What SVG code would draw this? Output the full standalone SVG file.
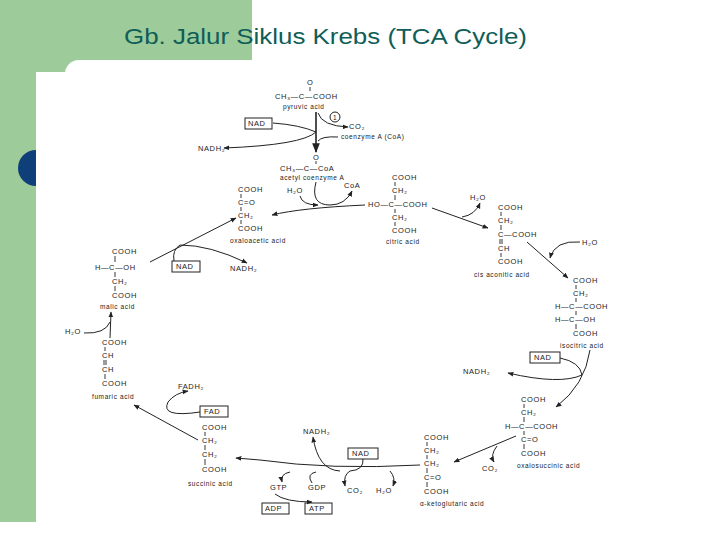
<svg xmlns="http://www.w3.org/2000/svg" width="720" height="540" viewBox="0 0 720 540">
<style>
text{font-family:"Liberation Sans","DejaVu Sans",sans-serif;font-size:7.5px;fill:#222;letter-spacing:0.6px}
.lb{font-size:6.5px}
.box{fill:none;stroke:#222;stroke-width:1}
.bd{fill:none;stroke:#222;stroke-width:0.9}
.c path{fill:none;stroke:#222;stroke-width:1}
</style>
<defs><marker id="a" viewBox="0 0 10 10" refX="9" refY="5" markerWidth="6" markerHeight="6" orient="auto"><path d="M0,1 L10,5 L0,9z" fill="#222"/></marker></defs>
<rect width="720" height="540" fill="#fff"/>
<rect x="0" y="0" width="252" height="86" fill="#9dcb9a"/>
<rect x="0" y="0" width="36" height="522" fill="#9dcb9a"/>
<circle cx="36" cy="168" r="18" fill="#0e3f78"/>
<rect x="65" y="60" width="600" height="100" rx="14" fill="#fff"/>
<rect x="36" y="72" width="604" height="450" fill="#fff"/>
<text x="124" y="44" textLength="403" lengthAdjust="spacingAndGlyphs" style="font-size:22px;fill:#0f5e58;letter-spacing:0">Gb.  Jalur Siklus Krebs (TCA Cycle)</text>

<g id="pyruvic"><text x="307" y="85">O</text><path class="bd" d="M310,87 V91"/><text x="275" y="99">CH₃—C—COOH</text><text x="283" y="109" class="lb">pyruvic acid</text></g>
<g id="step1"><circle cx="335" cy="117" r="5" fill="none" stroke="#222"/><text x="333" y="120" class="lb">1</text><text x="349" y="129">CO₂</text><text x="341" y="139" class="lb">coenzyme A (CoA)</text></g>
<g id="nad1"><rect x="245" y="118" width="27" height="11" class="box"/><text x="248" y="126">NAD</text><text x="198" y="151">NADH₂</text></g>
<g id="acetyl"><text x="313" y="160">O</text><path class="bd" d="M316,161 V164"/><text x="280" y="171">CH₃—C—CoA</text><text x="280" y="180" class="lb">acetyl coenzyme A</text><text x="287" y="193">H₂O</text><text x="344" y="188">CoA</text></g>
<g id="oxaloacetic"><text x="238" y="192">COOH</text><text x="238" y="205">C=O</text><text x="238" y="218">CH₂</text><text x="238" y="231">COOH</text><path class="bd" d="M241,194 V198 M241,207 V211 M241,220 V224"/><text x="230" y="243" class="lb">oxaloacetic acid</text></g>
<g id="citric"><text x="392" y="180">COOH</text><text x="392" y="193">CH₂</text><text x="368" y="207">HO—C—COOH</text><text x="392" y="220">CH₂</text><text x="392" y="233">COOH</text><path class="bd" d="M395,182 V186 M395,195 V200 M395,209 V213 M395,222 V226"/><text x="386" y="244" class="lb">citric acid</text></g>
<g id="cisaconitic"><text x="470" y="200">H₂O</text><text x="498" y="210">COOH</text><text x="498" y="223">CH₂</text><text x="498" y="237">C—COOH</text><text x="498" y="251">CH</text><text x="498" y="264">COOH</text><path class="bd" d="M501,212 V216 M501,225 V230 M500,239 V244 M502,239 V244 M501,253 V257"/><text x="474" y="277" class="lb">cis aconitic acid</text><text x="582" y="245">H₂O</text></g>
<g id="isocitric"><text x="573" y="283">COOH</text><text x="573" y="296">CH₂</text><text x="555" y="309">H—C—COOH</text><text x="555" y="322">H—C—OH</text><text x="573" y="336">COOH</text><path class="bd" d="M576,285 V289 M576,298 V302 M576,311 V315 M576,324 V329"/><text x="560" y="348" class="lb">isocitric acid</text></g>
<g id="nad2"><rect x="530" y="352" width="30" height="11" class="box"/><text x="534" y="360">NAD</text><text x="463" y="374">NADH₂</text></g>
<g id="oxalosuccinic"><text x="521" y="402">COOH</text><text x="521" y="415">CH₂</text><text x="505" y="429">H—C—COOH</text><text x="521" y="442">C=O</text><text x="521" y="456">COOH</text><path class="bd" d="M524,404 V408 M524,417 V422 M524,431 V435 M524,444 V449"/><text x="517" y="468" class="lb">oxalosuccinic acid</text><text x="482" y="471">CO₂</text></g>
<g id="ketoglutaric"><text x="424" y="440">COOH</text><text x="424" y="453">CH₂</text><text x="424" y="466">CH₂</text><text x="424" y="480">C=O</text><text x="424" y="494">COOH</text><path class="bd" d="M427,442 V446 M427,455 V459 M427,468 V473 M427,482 V487"/><text x="420" y="506" class="lb">α-ketoglutaric acid</text></g>
<g id="nad3"><rect x="348" y="448" width="30" height="11" class="box"/><text x="352" y="456">NAD</text><text x="303" y="434">NADH₂</text><text x="347" y="493">CO₂</text><text x="376" y="493">H₂O</text></g>
<g id="gtp"><text x="270" y="490">GTP</text><text x="308" y="490">GDP</text><rect x="262" y="503" width="27" height="11" class="box"/><text x="265" y="511">ADP</text><rect x="305" y="503" width="27" height="11" class="box"/><text x="309" y="511">ATP</text></g>
<g id="succinic"><text x="202" y="430">COOH</text><text x="202" y="443">CH₂</text><text x="202" y="457">CH₂</text><text x="202" y="472">COOH</text><path class="bd" d="M205,432 V436 M205,445 V450 M205,459 V465"/><text x="188" y="486" class="lb">succinic acid</text></g>
<g id="fad"><rect x="200" y="406" width="28" height="11" class="box"/><text x="204" y="414">FAD</text><text x="178" y="389">FADH₂</text></g>
<g id="fumaric"><text x="102" y="345">COOH</text><text x="102" y="358">CH</text><text x="102" y="372">CH</text><text x="102" y="386">COOH</text><path class="bd" d="M105,347 V351 M104,360 V365 M106,360 V365 M105,374 V379"/><text x="92" y="399" class="lb">fumaric acid</text><text x="65" y="334">H₂O</text></g>
<g id="malic"><text x="112" y="254">COOH</text><text x="95" y="270">H—C—OH</text><text x="112" y="284">CH₂</text><text x="112" y="298">COOH</text><path class="bd" d="M115,256 V262 M115,272 V277 M115,286 V291"/><text x="100" y="309" class="lb">malic acid</text></g>
<g id="nad4"><rect x="172" y="261" width="28" height="11" class="box"/><text x="176" y="269">NAD</text><text x="230" y="271">NADH₂</text></g>

<g id="connectors" class="c">
<path d="M316,112 V152" marker-end="url(#a)" style="stroke-width:1.6"/>
<path d="M318,113 Q322,126 348,127" marker-end="url(#a)"/>
<path d="M338,137 Q322,136 318,141"/>
<path d="M273,123 Q300,125 316,132 Q302,145 224,148" marker-end="url(#a)"/>
<path d="M316,182 Q310,205 330,205 Q345,205 352,191" marker-end="url(#a)"/>
<path d="M300,196 Q302,205 318,205" marker-end="url(#a)"/>
<path d="M365,205 Q300,208 272,215" marker-end="url(#a)"/>
<path d="M432,208 L488,228" marker-end="url(#a)"/>
<path d="M462,217 Q475,215 480,203" marker-end="url(#a)"/>
<path d="M527,242 L568,278" marker-end="url(#a)"/>
<path d="M580,242 Q555,240 550,258" marker-end="url(#a)"/>
<path d="M590,350 Q585,385 556,407" marker-end="url(#a)"/>
<path d="M560,358 Q580,362 582,375 Q560,385 508,373" marker-end="url(#a)"/>
<path d="M516,436 L454,462" marker-end="url(#a)"/>
<path d="M497,446 Q490,455 494,462" marker-end="url(#a)"/>
<path d="M420,465 Q330,470 260,460 L236,458" marker-end="url(#a)"/>
<path d="M390,471 Q396,478 393,486" marker-end="url(#a)"/>
<path d="M363,459 Q364,470 350,471 Q343,475 345,486" marker-end="url(#a)"/>
<path d="M340,471 Q318,470 313,437" marker-end="url(#a)"/>
<path d="M316,472 Q306,474 312,483"/>
<path d="M290,472 Q280,474 282,482" marker-end="url(#a)"/>
<path d="M275,494 Q285,502 312,502" marker-end="url(#a)"/>
<path d="M198,440 L134,405" marker-end="url(#a)"/>
<path d="M200,412 Q160,418 168,402 Q175,393 188,391" marker-end="url(#a)"/>
<path d="M110,338 L111,312" marker-end="url(#a)"/>
<path d="M84,333 Q105,334 110,322"/>
<path d="M150,262 L236,218" marker-end="url(#a)"/>
<path d="M174,261 Q172,250 180,245 Q210,245 247,263" marker-end="url(#a)"/>
</g>
</svg>
